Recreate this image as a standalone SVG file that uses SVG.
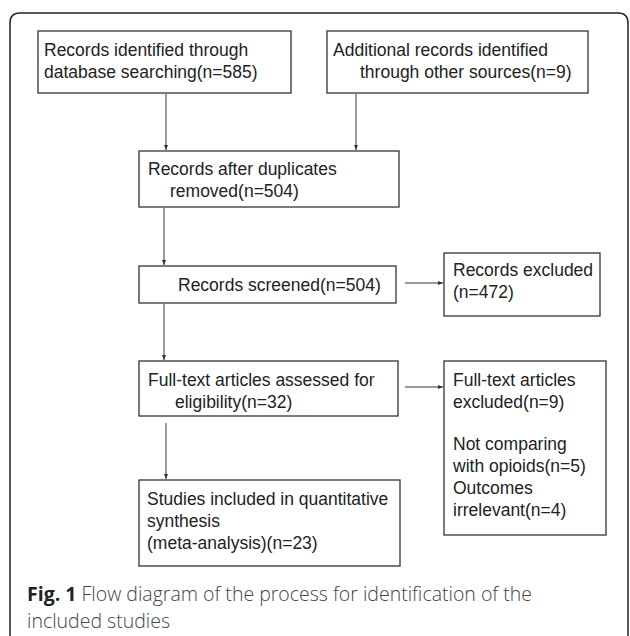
<svg xmlns="http://www.w3.org/2000/svg" width="630" height="636" viewBox="0 0 630 636">
<defs>
<style>
.box{fill:#fff;stroke:#333;stroke-width:1.3}
.t{font-family:"Liberation Sans",Arial,sans-serif;font-size:17.5px;fill:#222}
.conn line{stroke:#333;stroke-width:1}
.cap{font-family:"Open Sans","DejaVu Sans",sans-serif;font-size:19.5px;fill:#444;font-weight:300}
</style>
<marker id="ah" markerWidth="6" markerHeight="6" refX="5" refY="3" orient="auto" markerUnits="userSpaceOnUse">
<path d="M0,1 L5,3 L0,5 Z" fill="#333"/>
</marker>
</defs>
<rect width="630" height="636" fill="#fff"/>
<path id="frame" d="M10,640 L10,23 Q10,13 20,13 L618,13 Q628,13 628,23 L628,640" fill="none" stroke="#222" stroke-width="1.5"/>
<g id="n1"><rect class="box" x="38" y="31" width="253" height="62"/>
<text class="t" x="44" y="56">Records identified through</text>
<text class="t" x="44" y="78">database searching(n=585)</text></g>
<g id="n2"><rect class="box" x="327" y="31" width="261" height="62"/>
<text class="t" x="333" y="56">Additional records identified</text>
<text class="t" x="360" y="78">through other sources(n=9)</text></g>
<g id="n3"><rect class="box" x="139" y="151" width="260" height="56"/>
<text class="t" x="148" y="175">Records after duplicates</text>
<text class="t" x="170" y="197">removed(n=504)</text></g>
<g id="n4"><rect class="box" x="139" y="266" width="257" height="37"/>
<text class="t" x="178" y="291">Records screened(n=504)</text></g>
<g id="n5"><rect class="box" x="444" y="253" width="156" height="63"/>
<text class="t" x="453" y="276">Records excluded</text>
<text class="t" x="453" y="298">(n=472)</text></g>
<g id="n6"><rect class="box" x="139" y="361" width="259" height="55"/>
<text class="t" x="148" y="386">Full-text articles assessed for</text>
<text class="t" x="175" y="408">eligibility(n=32)</text></g>
<g id="n7"><rect class="box" x="444" y="361" width="162" height="174"/>
<text class="t" x="453" y="386">Full-text articles</text>
<text class="t" x="453" y="408">excluded(n=9)</text>
<text class="t" x="453" y="450">Not comparing</text>
<text class="t" x="453" y="472">with opioids(n=5)</text>
<text class="t" x="453" y="494">Outcomes</text>
<text class="t" x="453" y="516">irrelevant(n=4)</text></g>
<g id="n8"><rect class="box" x="139" y="480" width="261" height="86"/>
<text class="t" x="147" y="505">Studies included in quantitative</text>
<text class="t" x="147" y="527">synthesis</text>
<text class="t" x="147" y="549">(meta-analysis)(n=23)</text></g>
<g id="connectors" class="conn">
<line x1="166" y1="94" x2="166" y2="150" marker-end="url(#ah)"/>
<line x1="356" y1="94" x2="356" y2="150" marker-end="url(#ah)"/>
<line x1="164" y1="208" x2="164" y2="265" marker-end="url(#ah)"/>
<line x1="405" y1="283" x2="443" y2="283" marker-end="url(#ah)"/>
<line x1="164" y1="304" x2="164" y2="360" marker-end="url(#ah)"/>
<line x1="405" y1="387" x2="443" y2="387" marker-end="url(#ah)"/>
<line x1="166" y1="423" x2="166" y2="479" marker-end="url(#ah)"/>
</g>
<g id="caption">
<text class="cap" x="27" y="601"><tspan font-weight="700" fill="#222">Fig. 1</tspan> Flow diagram of the process for identification of the</text>
<text class="cap" x="27" y="628">included studies</text>
</g>
</svg>
